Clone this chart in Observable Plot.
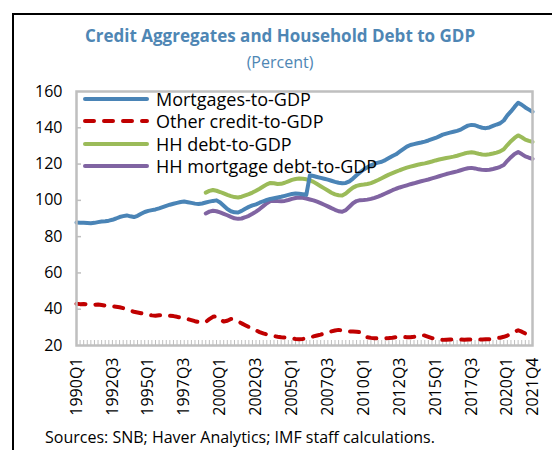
<!DOCTYPE html>
<html><head><meta charset="utf-8">
<script src="https://cdn.jsdelivr.net/npm/d3@7"></script>
<script src="https://cdn.jsdelivr.net/npm/@observablehq/plot@0.6"></script>
<style>
body{margin:0;width:552px;height:450px;overflow:hidden;position:relative;background:#fff;font-family:"Open Sans","Noto Sans",sans-serif;}
#box{position:absolute;left:12px;top:13px;width:600px;height:500px;border:2px solid #000;box-sizing:border-box;}
#title{position:absolute;left:0;width:560px;top:25px;text-align:center;color:#4e86b4;font-weight:bold;font-size:17px;line-height:22px;}
#subtitle{position:absolute;left:0;width:560px;top:51px;text-align:center;color:#4e86b4;font-size:16px;line-height:22px;}
#chart{position:absolute;left:0;top:0;}
#legend{position:absolute;left:83px;top:0;}
.row{position:absolute;left:0;height:22px;display:flex;align-items:center;white-space:nowrap;font-size:18px;color:#000;}
.row svg{margin-right:5px;}
#source{position:absolute;left:45px;top:427px;font-size:16px;line-height:20px;white-space:nowrap;color:#000;}
</style></head>
<body>
<div id="box"></div>
<div id="title">Credit Aggregates and Household Debt to GDP</div>
<div id="subtitle">(Percent)</div>
<div id="chart"></div>
<div id="legend"></div>
<div id="source">Sources: SNB; Haver Analytics; IMF staff calculations.</div>
<script>
// Quarter categories 1990Q1 .. 2021Q4
const years = d3.range(1990, 2022);
const quarters = years.flatMap(y => [1,2,3,4].map(q => `${y}Q${q}`));
const tickLabels = ["1990Q1","1992Q3","1995Q1","1997Q3","2000Q1","2002Q3","2005Q1","2007Q3","2010Q1","2012Q3","2015Q1","2017Q3","2020Q1","2021Q4"];
const yTicks = [20,40,60,80,100,120,140,160];

// Mortgages-to-GDP, 1990Q1..2021Q4
const mortgages = [
87.8,87.7,87.6,87.5,87.4,87.6,88.0,88.3,88.5,88.8,
89.3,90.0,90.8,91.3,91.7,91.2,90.8,91.5,92.6,93.6,
94.2,94.6,95.0,95.6,96.3,97.0,97.6,98.1,98.6,99.1,
99.4,99.0,98.6,98.2,98.0,98.3,98.8,99.3,99.7,100.0,
98.8,97.0,95.2,94.0,93.4,93.3,94.2,95.4,96.4,97.2,
97.8,98.7,99.5,100.2,100.8,101.2,101.6,102.0,102.5,103.0,
103.5,103.8,103.6,103.4,103.0,113.8,113.4,112.9,112.4,111.9,
111.4,110.8,110.2,109.7,109.4,109.6,110.5,112.0,113.8,115.5,
117.0,118.2,119.3,120.2,120.8,121.3,122.2,123.3,124.4,125.4,
126.8,128.2,129.6,130.5,131.0,131.5,131.9,132.4,133.0,133.7,
134.4,135.3,136.2,136.8,137.3,137.8,138.3,139.0,140.2,141.2,
141.6,141.4,140.6,140.0,139.8,140.2,141.0,141.8,142.5,144.0,
146.8,149.0,151.5,153.8,152.7,151.2,150.0,148.8];

// Other credit-to-GDP, 1990Q1..2021Q4
const otherCredit = [
43.0,42.8,42.9,42.6,42.7,42.5,42.6,42.3,42.0,41.8,
41.6,41.4,41.1,40.6,40.0,39.3,38.6,38.2,37.8,37.3,
36.9,36.6,36.4,36.7,36.8,36.6,36.4,36.2,35.8,35.3,
34.9,34.5,34.0,33.4,32.9,32.7,33.0,34.5,35.8,36.2,
34.5,33.2,33.6,34.6,34.4,33.3,32.2,31.2,30.2,29.2,
28.3,27.4,26.7,26.1,25.6,25.2,24.8,24.5,24.4,24.3,
23.9,23.6,23.5,23.6,23.9,24.4,25.0,25.5,26.0,26.6,
27.2,27.8,28.3,28.6,28.3,27.9,27.8,27.7,27.6,27.3,
25.8,24.6,24.2,24.0,23.9,23.9,24.0,24.1,24.3,24.6,
24.8,24.7,24.6,24.5,24.8,25.4,25.8,25.5,24.8,24.1,
23.5,23.2,23.1,23.2,23.3,23.3,23.4,23.3,23.2,23.3,
23.4,23.4,23.3,23.3,23.4,23.5,23.7,24.0,24.3,24.8,
25.5,26.5,27.6,28.4,27.6,26.6,26.0,25.8];

// HH series start in 1999Q1
const hhStart = "1999Q1";
// HH debt-to-GDP, 1999Q1..2021Q4
const hhDebt = [
104.3,105.2,105.7,105.3,104.6,103.8,103.0,102.3,101.8,101.6,
102.0,102.7,103.4,104.3,105.3,106.4,107.6,108.8,109.6,109.4,
109.0,109.1,109.7,110.5,111.3,111.8,112.0,111.9,111.6,111.0,
110.2,109.0,107.8,106.6,105.4,104.2,103.3,102.8,102.7,103.8,
105.5,107.0,108.0,108.5,108.7,109.0,109.5,110.3,111.2,112.2,
113.2,114.2,115.0,115.8,116.6,117.3,118.0,118.6,119.1,119.6,
120.0,120.4,120.9,121.4,122.0,122.5,122.9,123.3,123.7,124.1,
124.6,125.2,125.8,126.3,126.5,126.2,125.7,125.3,125.2,125.4,
125.8,126.3,127.0,128.2,130.5,132.6,134.4,135.8,134.8,133.5,
132.8,132.2];
// HH mortgage debt-to-GDP, 1999Q1..2021Q4
const hhMortgage = [
92.8,93.8,94.3,94.0,93.4,92.6,91.8,90.9,90.1,89.8,
90.0,90.7,91.5,92.6,93.8,95.2,96.8,98.4,99.6,99.8,
99.6,99.5,99.7,100.2,100.8,101.3,101.6,101.4,101.0,100.5,
100.0,99.3,98.5,97.6,96.7,95.7,94.8,94.0,93.7,94.6,
96.5,98.4,99.6,100.1,100.2,100.4,100.8,101.4,102.1,102.9,
103.8,104.7,105.6,106.4,107.1,107.7,108.3,108.9,109.4,110.0,
110.5,111.0,111.5,112.1,112.7,113.3,113.9,114.5,115.0,115.5,
116.0,116.6,117.2,117.7,117.9,117.6,117.1,116.8,116.7,116.9,
117.3,117.8,118.5,119.5,121.8,123.8,125.6,126.6,125.5,124.2,
123.5,122.9];

const seriesNames = ["Mortgages-to-GDP","Other credit-to-GDP","HH debt-to-GDP","HH mortgage debt-to-GDP"];
const seriesColors = ["#4a84b6","#c00000","#9bbb59","#8064a2"];

const s0 = quarters.indexOf(hhStart);
const rows = [
  ...mortgages.map((v,i)=>({s:seriesNames[0], q:quarters[i], v})),
  ...otherCredit.map((v,i)=>({s:seriesNames[1], q:quarters[i], v})),
  ...hhDebt.map((v,i)=>({s:seriesNames[2], q:quarters[s0+i], v})),
  ...hhMortgage.map((v,i)=>({s:seriesNames[3], q:quarters[s0+i], v}))
];

const lineFor = (k, extra={}) => Plot.lineY(rows.filter(d=>d.s===seriesNames[k]), {
  x:"q", y:"v", stroke: seriesColors[k], strokeWidth:4, strokeLinecap:"round", strokeLinejoin:"round", ...extra
});

const chart = Plot.plot({
  width:552, height:450,
  marginTop:91, marginBottom:105, marginLeft:76, marginRight:20,
  style:{fontFamily:'"Open Sans","Noto Sans",sans-serif', fontSize:"16px", color:"#000", background:"transparent"},
  x:{type:"point", domain:quarters, padding:0},
  y:{domain:[20,160]},
  marks:[
    Plot.axisY({ticks:yTicks, tickSize:0, tickPadding:14, label:null, fill:"#000"}),
    Plot.axisY({ticks:yTicks.slice(1,-1), tickSize:-5, tickFormat:()=>"", label:null, stroke:"#bfbfbf", strokeWidth:1.5}),
    Plot.axisX({ticks:quarters, tickSize:-5, tickFormat:()=>"", label:null, stroke:"#bfbfbf", strokeWidth:1}),
    Plot.axisX({ticks:tickLabels, tickSize:0, tickPadding:12, tickRotate:-90, label:null, fill:"#000"}),
    lineFor(2), lineFor(3), lineFor(0),
    lineFor(1, {strokeDasharray:"9,10"}),
    Plot.frame({stroke:"#bfbfbf", strokeWidth:2.5})
  ]
});
document.getElementById("chart").appendChild(chart);

const leg = document.getElementById("legend");
seriesNames.forEach((name,i)=>{
  const r = document.createElement("div");
  r.className = "row";
  r.style.top = (88 + i*22.3) + "px";
  const dash = i===1 ? 'stroke-dasharray="9,10"' : '';
  r.innerHTML = `<svg width="68" height="10"><line x1="2" y1="5" x2="64" y2="5" stroke="${seriesColors[i]}" stroke-width="4" stroke-linecap="round" ${dash}/></svg><span>${name}</span>`;
  leg.appendChild(r);
});
</script>
</body></html>
